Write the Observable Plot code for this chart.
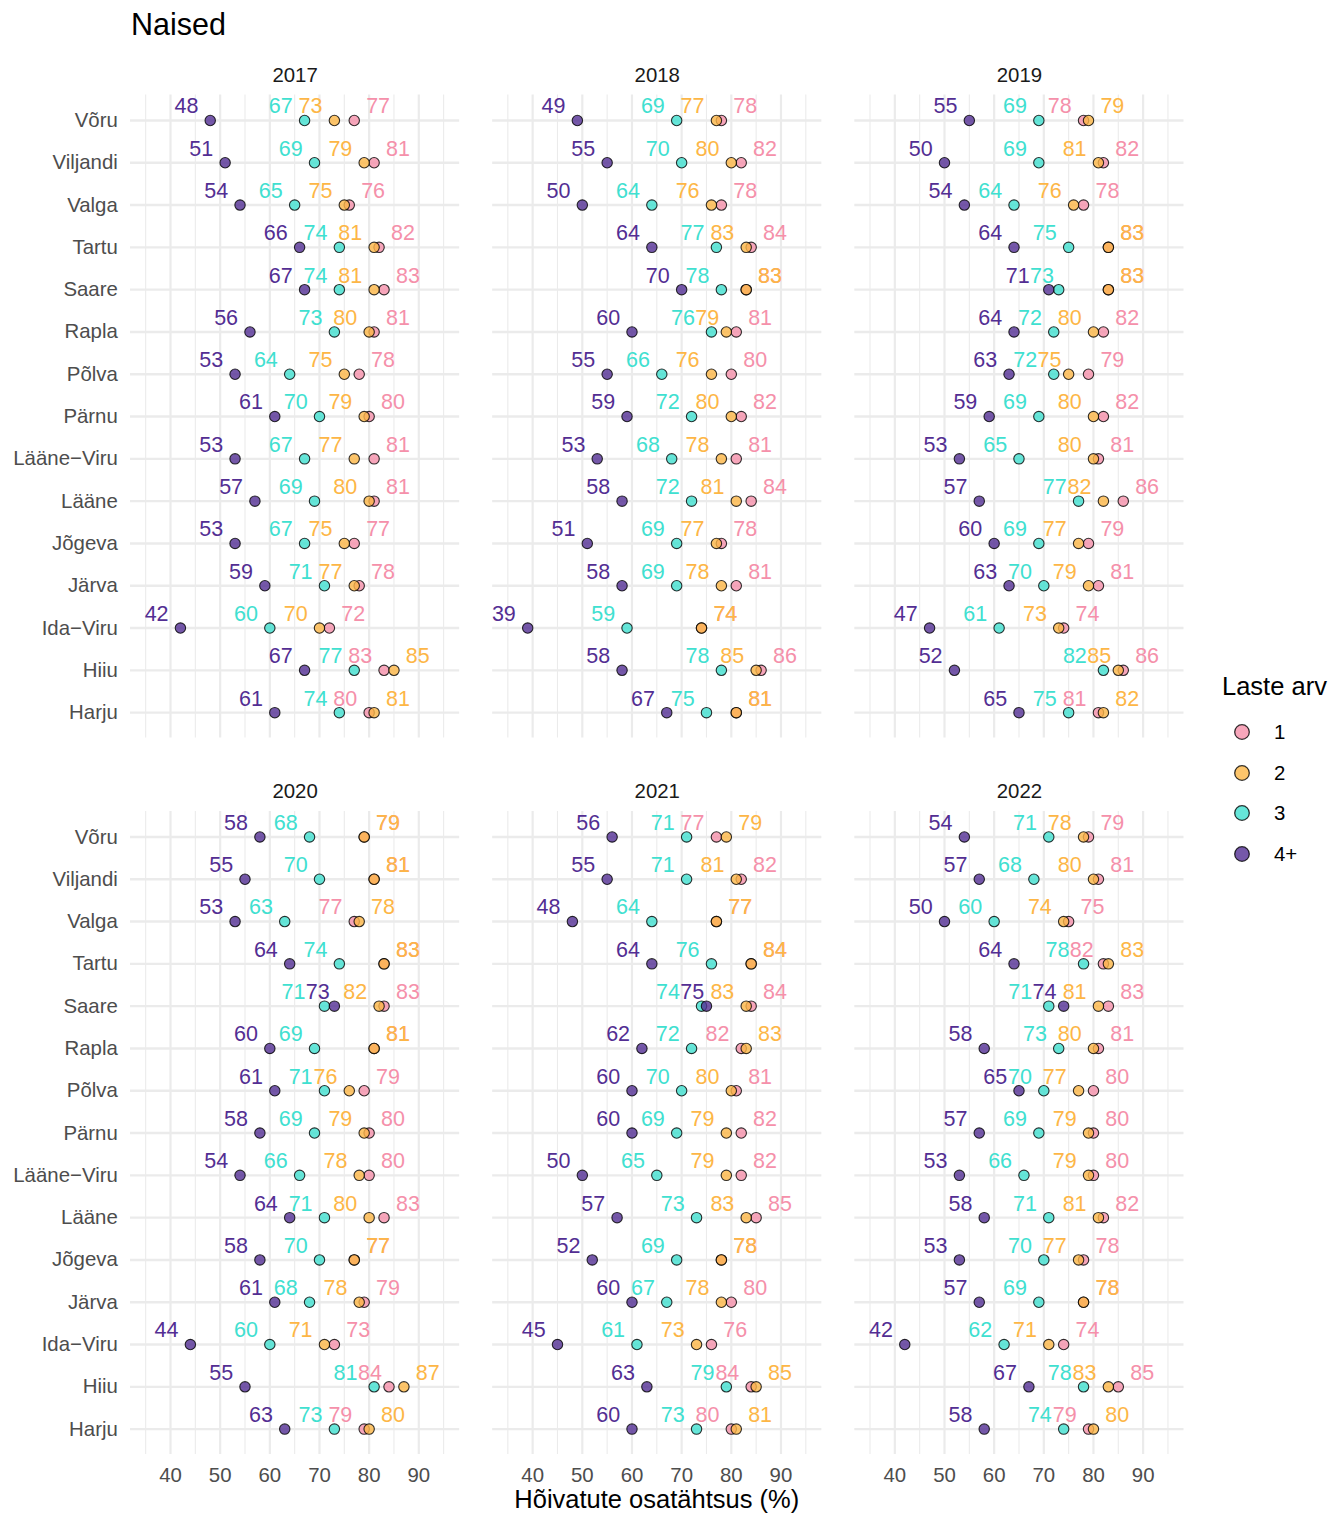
<!DOCTYPE html>
<html>
<head>
<meta charset="utf-8">
<script src="https://cdn.jsdelivr.net/npm/d3@7"></script>
<script src="https://cdn.jsdelivr.net/npm/@observablehq/plot@0.6"></script>
<style>
  body { margin: 0; background: #fff; font-family: "Liberation Sans", Arial, sans-serif; }
  #wrap { position: relative; width: 1331px; height: 1515px; overflow: hidden; }
  #chart { position: absolute; left: 0; top: 0; }
  .t { position: absolute; white-space: nowrap; line-height: 1; }
</style>
</head>
<body>
<div id="wrap">
  <div id="chart"></div>
  <div class="t" style="left:131px; top:9.2px; font-size:30.5px; color:#000;">Naised</div>
  <div class="t" id="xtitle" style="left:0; width:1313.5px; text-align:center; top:1487.4px; font-size:25.5px; color:#000;">Hõivatute osatähtsus (%)</div>
  <div id="legend"></div>
</div>
<script>
// ---------- data ----------
const counties = ["Võru", "Viljandi", "Valga", "Tartu", "Saare", "Rapla", "Põlva", "Pärnu",
  "Lääne−Viru", "Lääne", "Jõgeva", "Järva", "Ida−Viru", "Hiiu", "Harju"];
const years = [2017, 2018, 2019, 2020, 2021, 2022];
const series = ["1", "2", "3", "4+"];
const colors = ["#f590aa", "#fdb646", "#40e0d0", "#532e93"];
const xTicks = [40, 50, 60, 70, 80, 90];
const xMinor = [35, 45, 55, 65, 75, 85, 95];

const y2017_1 = [77, 81, 76, 82, 83, 81, 78, 80, 81, 81, 77, 78, 72, 83, 80];
const y2017_2 = [73, 79, 75, 81, 81, 80, 75, 79, 77, 80, 75, 77, 70, 85, 81];
const y2017_3 = [67, 69, 65, 74, 74, 73, 64, 70, 67, 69, 67, 71, 60, 77, 74];
const y2017_4 = [48, 51, 54, 66, 67, 56, 53, 61, 53, 57, 53, 59, 42, 67, 61];

const y2018_1 = [78, 82, 78, 84, 83, 81, 80, 82, 81, 84, 78, 81, 74, 86, 81];
const y2018_2 = [77, 80, 76, 83, 83, 79, 76, 80, 78, 81, 77, 78, 74, 85, 81];
const y2018_3 = [69, 70, 64, 77, 78, 76, 66, 72, 68, 72, 69, 69, 59, 78, 75];
const y2018_4 = [49, 55, 50, 64, 70, 60, 55, 59, 53, 58, 51, 58, 39, 58, 67];

const y2019_1 = [78, 82, 78, 83, 83, 82, 79, 82, 81, 86, 79, 81, 74, 86, 81];
const y2019_2 = [79, 81, 76, 83, 83, 80, 75, 80, 80, 82, 77, 79, 73, 85, 82];
const y2019_3 = [69, 69, 64, 75, 73, 72, 72, 69, 65, 77, 69, 70, 61, 82, 75];
const y2019_4 = [55, 50, 54, 64, 71, 64, 63, 59, 53, 57, 60, 63, 47, 52, 65];

const y2020_1 = [79, 81, 77, 83, 83, 81, 79, 80, 80, 83, 77, 79, 73, 84, 79];
const y2020_2 = [79, 81, 78, 83, 82, 81, 76, 79, 78, 80, 77, 78, 71, 87, 80];
const y2020_3 = [68, 70, 63, 74, 71, 69, 71, 69, 66, 71, 70, 68, 60, 81, 73];
const y2020_4 = [58, 55, 53, 64, 73, 60, 61, 58, 54, 64, 58, 61, 44, 55, 63];

const y2021_1 = [77, 82, 77, 84, 84, 82, 81, 82, 82, 85, 78, 80, 76, 84, 80];
const y2021_2 = [79, 81, 77, 84, 83, 83, 80, 79, 79, 83, 78, 78, 73, 85, 81];
const y2021_3 = [71, 71, 64, 76, 74, 72, 70, 69, 65, 73, 69, 67, 61, 79, 73];
const y2021_4 = [56, 55, 48, 64, 75, 62, 60, 60, 50, 57, 52, 60, 45, 63, 60];

const y2022_1 = [79, 81, 75, 82, 83, 81, 80, 80, 80, 82, 78, 78, 74, 85, 79];
const y2022_2 = [78, 80, 74, 83, 81, 80, 77, 79, 79, 81, 77, 78, 71, 83, 80];
const y2022_3 = [71, 68, 60, 78, 71, 73, 70, 69, 66, 71, 70, 69, 62, 78, 74];
const y2022_4 = [54, 57, 50, 64, 74, 58, 65, 57, 53, 58, 53, 57, 42, 67, 58];

const valuesByYear = new Map([
  [2017, [y2017_1, y2017_2, y2017_3, y2017_4]],
  [2018, [y2018_1, y2018_2, y2018_3, y2018_4]],
  [2019, [y2019_1, y2019_2, y2019_3, y2019_4]],
  [2020, [y2020_1, y2020_2, y2020_3, y2020_4]],
  [2021, [y2021_1, y2021_2, y2021_3, y2021_4]],
  [2022, [y2022_1, y2022_2, y2022_3, y2022_4]]
]);

// ---------- build tables ----------
const rows = [];
years.forEach((yr, i) => {
  const arrs = valuesByYear.get(yr);
  series.forEach((s, k) => {
    counties.forEach((c, j) => {
      rows.push({year: yr, col: i % 3, row: Math.floor(i / 3), county: c, series: s, value: arrs[k][j]});
    });
  });
});
const yearLabels = years.map((yr, i) => ({year: String(yr), col: i % 3, row: Math.floor(i / 3)}));

// label placement: max nudged right, others left, then simple repel
const NUDGE = 4.8, MINSEP = 4.9;
const labels = rows.map(d => ({...d}));
for (const [, group] of d3.group(labels, d => d.year + "|" + d.county)) {
  const max = d3.max(group, d => d.value);
  group.forEach(d => d.lx = d.value + (d.value === max ? NUDGE : -NUDGE));
  const clusters = Array.from(d3.group(group, d => d.lx), ([x, arr]) => ({x, arr}));
  for (let it = 0; it < 300; it++) {
    let moved = false;
    clusters.sort((a, b) => a.x - b.x);
    for (let i = 0; i < clusters.length - 1; i++) {
      const a = clusters[i], b = clusters[i + 1];
      const gap = b.x - a.x;
      if (gap < MINSEP - 1e-6) {
        const p = (MINSEP - gap) / 2;
        a.x -= p; b.x += p; moved = true;
      }
    }
    if (!moved) break;
  }
  clusters.forEach(c => c.arr.forEach(d => d.lx = c.x));
}

// ---------- plot ----------
const chart = Plot.plot({
  width: 1331,
  height: 1515,
  marginLeft: 130,
  marginRight: 147.5,
  marginTop: 94.6,
  marginBottom: 61,
  style: {fontFamily: '"Liberation Sans", Arial, sans-serif', fontSize: "20.4px", color: "#4d4d4d", background: "transparent", maxWidth: "none"},
  fx: {domain: [0, 1, 2], paddingInner: 0.0911, paddingOuter: 0, round: false, axis: null, label: null},
  fy: {domain: [0, 1], paddingInner: 0.1027, paddingOuter: 0, round: false, axis: null, label: null},
  x: {domain: [31.945, 98.23], ticks: xTicks, tickSize: 0, tickPadding: 13, label: null, tickFormat: d => String(d)},
  y: {type: "point", domain: counties, padding: 0.6, round: false, tickSize: 0, tickPadding: 12.7, label: null},
  color: {domain: series, range: colors},
  marks: [
    Plot.ruleX(xMinor, {stroke: "#ebebeb", strokeWidth: 1.1}),
    Plot.ruleX(xTicks, {stroke: "#ebebeb", strokeWidth: 2.2}),
    Plot.ruleY(counties, {stroke: "#ebebeb", strokeWidth: 2.4}),
    Plot.text(yearLabels, {fx: "col", fy: "row", text: "year", frameAnchor: "top", lineAnchor: "middle", dy: -20, fontSize: 20.4, fill: "#1a1a1a"}),
    Plot.dot(rows, {fx: "col", fy: "row", x: "value", y: "county", fill: "series", fillOpacity: 0.8, stroke: "black", strokeOpacity: 0.8, strokeWidth: 1.1, r: 5.2}),
    Plot.text(labels, {fx: "col", fy: "row", x: "lx", y: "county", text: d => String(d.value), fill: "series", dy: -14, fontSize: 21.5})
  ]
});
document.getElementById("chart").appendChild(chart);

// ---------- legend ----------
const legend = document.getElementById("legend");
const lt = document.createElement("div");
lt.className = "t";
lt.style.cssText = "left:1222px; top:674.4px; font-size:25.5px; color:#000;";
lt.textContent = "Laste arv";
legend.appendChild(lt);
const legendY = [731.7, 773.3, 813.3, 854.3];
series.forEach((s, i) => {
  const cy = legendY[i];
  const sv = document.createElementNS("http://www.w3.org/2000/svg", "svg");
  sv.setAttribute("width", 20); sv.setAttribute("height", 20);
  sv.style.cssText = `position:absolute; left:${1242 - 10}px; top:${cy - 10}px;`;
  const c = document.createElementNS("http://www.w3.org/2000/svg", "circle");
  c.setAttribute("cx", 10); c.setAttribute("cy", 10); c.setAttribute("r", 7.3);
  c.setAttribute("fill", colors[i]); c.setAttribute("fill-opacity", 0.8);
  c.setAttribute("stroke", "black"); c.setAttribute("stroke-opacity", 0.8); c.setAttribute("stroke-width", 1.3);
  sv.appendChild(c);
  legend.appendChild(sv);
  const tx = document.createElement("div");
  tx.className = "t";
  tx.style.cssText = `left:1274px; top:${cy + 7.3 - 17.3}px; font-size:20.4px; color:#000;`;
  tx.textContent = s;
  legend.appendChild(tx);
});
</script>
</body>
</html>
